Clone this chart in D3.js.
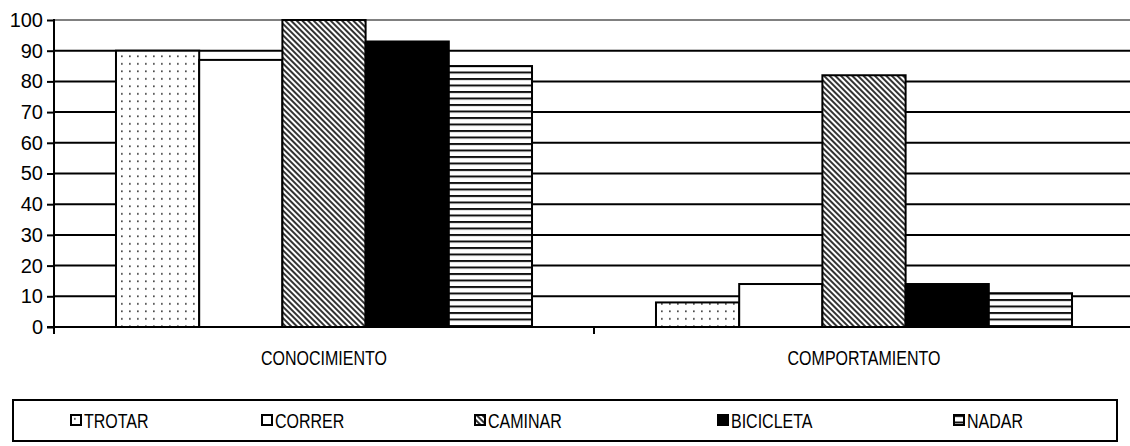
<!DOCTYPE html>
<html>
<head>
<meta charset="utf-8">
<script src="https://cdnjs.cloudflare.com/ajax/libs/d3/7.8.5/d3.min.js"></script>
<style>
  body { margin: 0; background: #fff; }
  svg { display: block; }
  text { font-family: "Liberation Sans", Arial, sans-serif; fill: #000; }
</style>
</head>
<body>
<svg id="chart" width="1130" height="446"></svg>
<script>
// Data
const categories = ['CONOCIMIENTO', 'COMPORTAMIENTO']
const series = ['TROTAR', 'CORRER', 'CAMINAR', 'BICICLETA', 'NADAR']
const conocimientoValues = [90, 87, 100, 93, 85]
const comportamientoValues = [8, 14, 82, 14, 11]
const yTicks = [0, 10, 20, 30, 40, 50, 60, 70, 80, 90, 100]

const valuesByCategory = [conocimientoValues, comportamientoValues]

// Layout
const plotLeft = 54, plotRight = 1134, plotTop = 20, plotBottom = 327
const narrow = 0.8
const svg = d3.select('#chart')

const x0 = d3.scaleBand()
    .domain(categories)
    .range([plotLeft, plotRight])

const x1 = d3.scaleBand()
    .domain(series)
    .range([0, x0.bandwidth()])
    .paddingOuter(0.745)

const y = d3.scaleLinear()
    .domain([0, 100])
    .range([plotBottom, plotTop])

// Fill patterns
const defs = svg.append('defs')

const dots = defs.append('pattern')
    .attr('id', 'p-dots')
    .attr('patternUnits', 'userSpaceOnUse')
    .attr('width', 8).attr('height', 7.5)
dots.append('rect').attr('width', 8).attr('height', 7.5).attr('fill', '#fff')
dots.append('rect').attr('x', 3).attr('y', 3).attr('width', 1.7).attr('height', 1.7).attr('fill', '#444')

const diag = defs.append('pattern')
    .attr('id', 'p-diag')
    .attr('patternUnits', 'userSpaceOnUse')
    .attr('width', 4).attr('height', 4)
    .attr('patternTransform', 'rotate(-45)')
diag.append('rect').attr('width', 4).attr('height', 4).attr('fill', '#fff')
diag.append('rect').attr('width', 2).attr('height', 4).attr('fill', '#333')

const horiz = defs.append('pattern')
    .attr('id', 'p-horiz')
    .attr('patternUnits', 'userSpaceOnUse')
    .attr('width', 6).attr('height', 6.5)
horiz.append('rect').attr('width', 6).attr('height', 6.5).attr('fill', '#fff')
horiz.append('rect').attr('y', 0).attr('width', 6).attr('height', 2).attr('fill', '#111')

const fills = ['url(#p-dots)', '#fff', 'url(#p-diag)', '#000', 'url(#p-horiz)']

// Gridlines
svg.append('g')
    .selectAll('line')
    .data(yTicks.filter(d => d > 0))
    .join('line')
    .attr('x1', plotLeft).attr('x2', 1130)
    .attr('y1', d => y(d)).attr('y2', d => y(d))
    .attr('stroke', d => d == 100 ? '#808080' : '#000')
    .attr('stroke-width', 2)

// Bars
const groups = svg.append('g')
    .selectAll('g')
    .data(categories)
    .join('g')
    .attr('transform', d => 'translate(' + x0(d) + ',0)')

groups.selectAll('rect')
    .data((c, ci) => series.map((s, i) => ({ s: s, i: i, v: valuesByCategory[ci][i] })))
    .join('rect')
    .attr('x', d => x1(d.s))
    .attr('y', d => y(d.v))
    .attr('width', x1.bandwidth())
    .attr('height', d => y(0) - y(d.v))
    .attr('fill', d => fills[d.i])
    .attr('stroke', '#000')
    .attr('stroke-width', 2)

// Y axis
const yAxis = d3.axisLeft(y)
    .tickValues(yTicks)
    .tickSize(7)
    .tickPadding(4)

svg.append('g')
    .attr('transform', 'translate(' + plotLeft + ',0)')
    .call(yAxis)
    .call(g => g.select('.domain').remove())
    .call(g => g.selectAll('line').attr('stroke', '#000').attr('stroke-width', 2))
    .call(g => g.selectAll('text')
        .attr('fill', '#000')
        .style('font-family', '"Liberation Sans", Arial, sans-serif')
        .style('font-size', '20px'))

svg.append('line')
    .attr('x1', plotLeft).attr('x2', plotLeft)
    .attr('y1', plotTop - 1).attr('y2', plotBottom + 7)
    .attr('stroke', '#000').attr('stroke-width', 2)

// X axis
svg.append('line')
    .attr('x1', plotLeft - 7).attr('x2', 1130)
    .attr('y1', plotBottom).attr('y2', plotBottom)
    .attr('stroke', '#000').attr('stroke-width', 2)

svg.append('g')
    .selectAll('line')
    .data(categories.slice(1))
    .join('line')
    .attr('x1', d => x0(d)).attr('x2', d => x0(d))
    .attr('y1', plotBottom).attr('y2', plotBottom + 7)
    .attr('stroke', '#000').attr('stroke-width', 2)

svg.append('g')
    .selectAll('text')
    .data(categories)
    .join('text')
    .attr('transform', d => 'translate(' + (x0(d) + x0.bandwidth() / 2) + ',365) scale(' + narrow + ',1)')
    .attr('text-anchor', 'middle')
    .style('font-size', '20px')
    .text(d => d)

// Legend
svg.append('rect')
    .attr('x', 13).attr('y', 400)
    .attr('width', 1104).attr('height', 41)
    .attr('fill', 'none')
    .attr('stroke', '#000').attr('stroke-width', 2)

const legendX = [71, 262, 475, 718, 954]

const legendItems = svg.append('g')
    .selectAll('g')
    .data(series)
    .join('g')
    .attr('transform', (d, i) => 'translate(' + legendX[i] + ',415)')

legendItems.append('rect')
    .attr('width', 10).attr('height', 10)
    .attr('fill', (d, i) => fills[i])
    .attr('stroke', '#000').attr('stroke-width', 2)

legendItems.append('text')
    .attr('transform', 'translate(13,12.5) scale(' + narrow + ',1)')
    .style('font-size', '20px')
    .text(d => d)
</script>
</body>
</html>
